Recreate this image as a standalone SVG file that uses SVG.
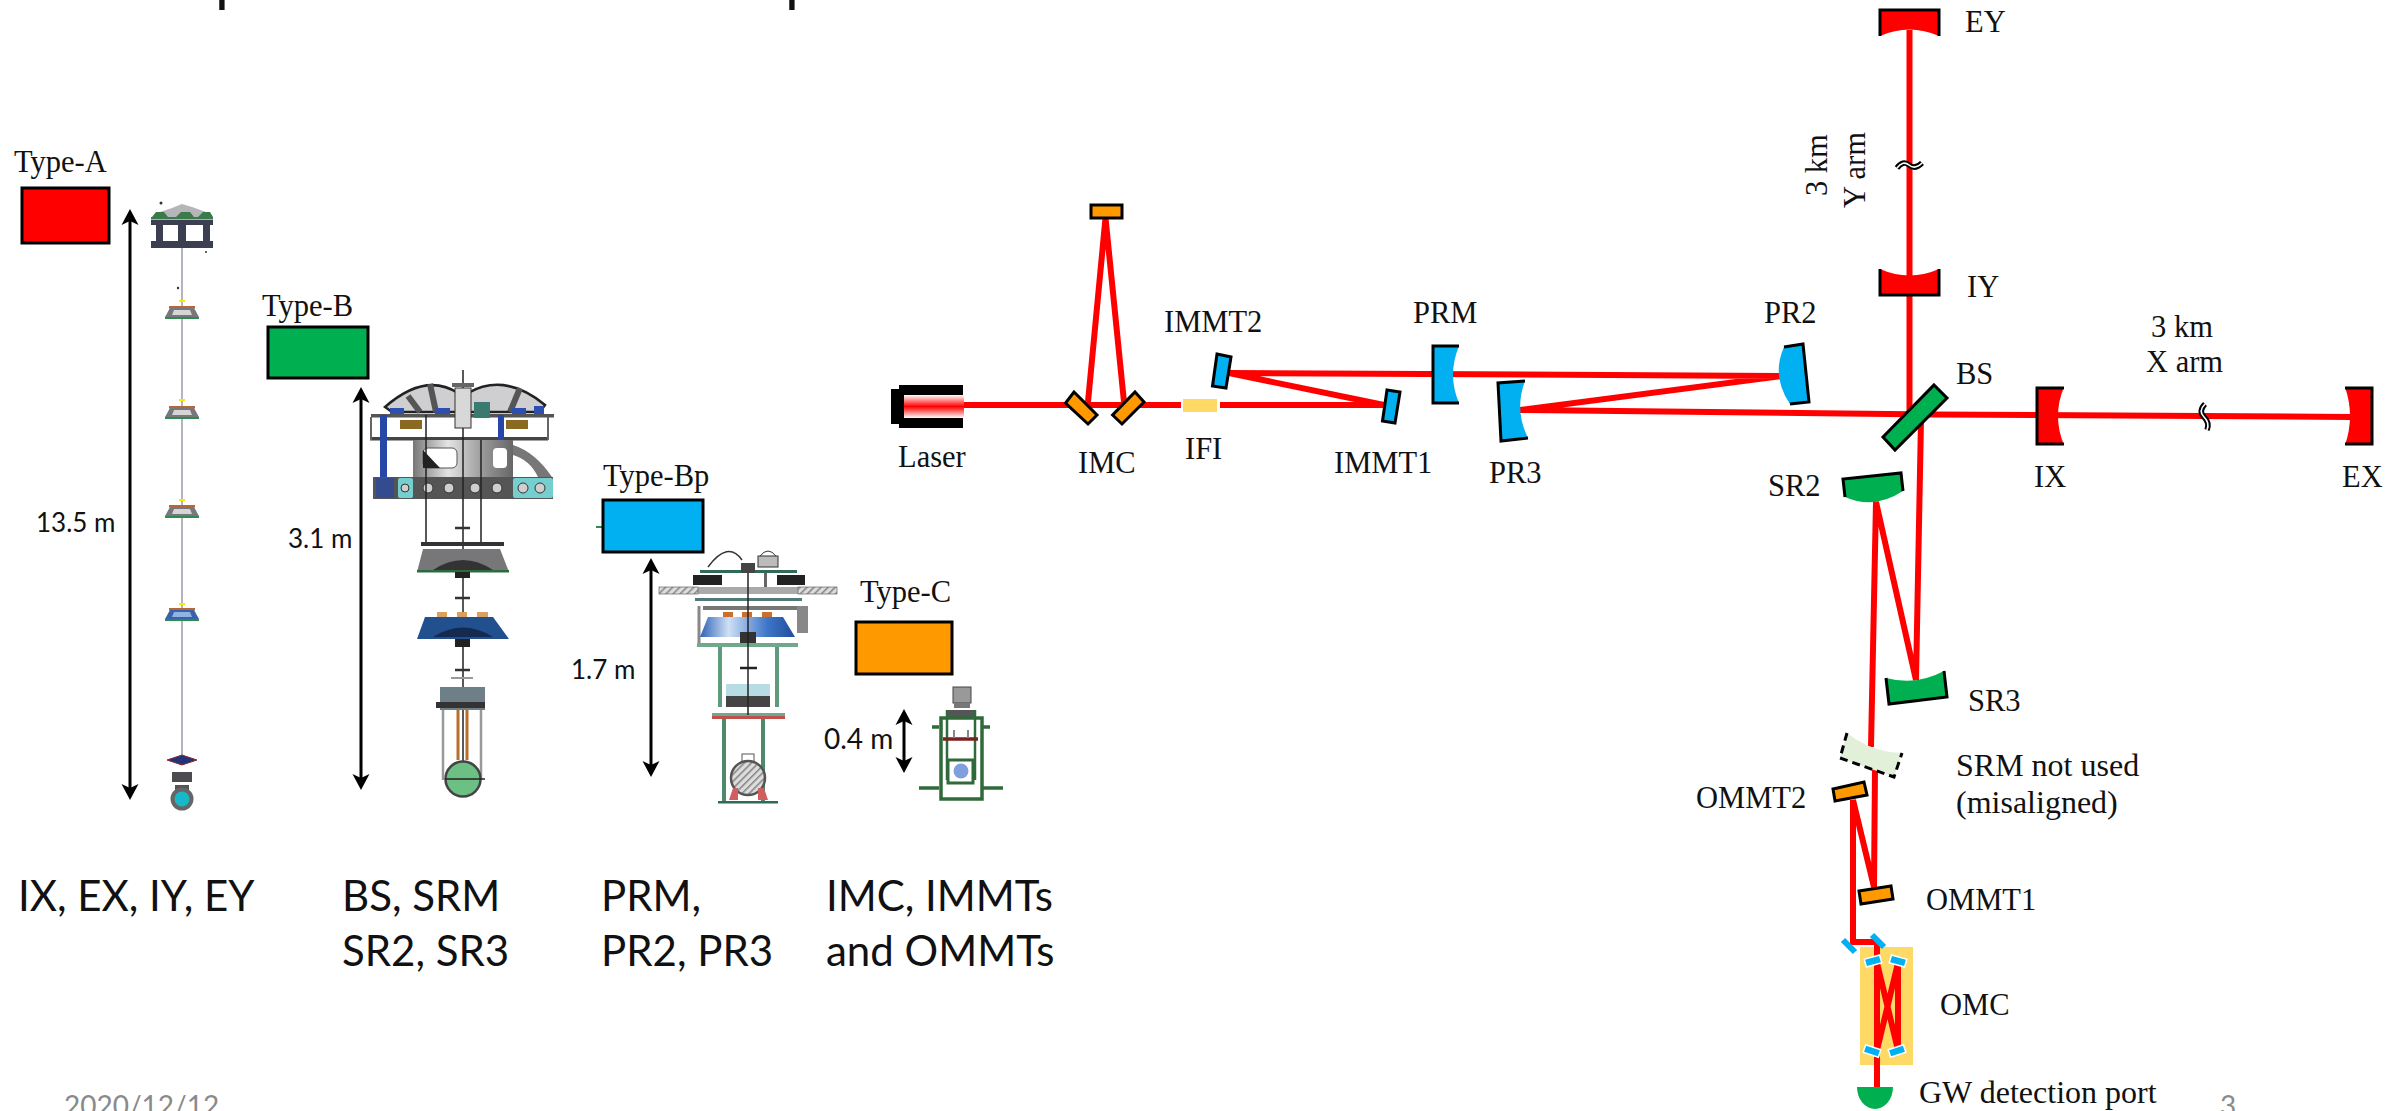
<svg xmlns="http://www.w3.org/2000/svg" width="2397" height="1111" viewBox="0 0 2397 1111">
<style>
.t{font-family:"Liberation Serif","Times New Roman",serif;font-size:30.5px;fill:#111}
.l{font-size:32px}
.c{font-family:Lato,"Open Sans",sans-serif;fill:#111}
.s{font-size:26px}
.b{font-size:42px}
.f{font-size:28px;fill:#8a8a8a}
.beam{fill:none;stroke:#f00;stroke-width:6}
.dim{fill:none;stroke:#000;stroke-width:3;marker-start:url(#ah);marker-end:url(#ah)}
.e{fill:none;stroke:#000;stroke-width:3}
.k{stroke:#000;stroke-width:3}
.red{fill:#f00}.grn{fill:#00b050}.blu{fill:#00b0f0}.org{fill:#ff9900}
.brk{fill:none;stroke:#000;stroke-width:5.5}
.brw{fill:none;stroke:#fff;stroke-width:1.6}
.sm{fill:#00b0f0;stroke:#fff;stroke-width:1.5}
.wire{stroke:#b4b4bc;stroke-width:2;fill:none}
.dk{stroke:#222;stroke-width:1.5;fill:none}
</style>
<defs>
<marker id="ah" markerUnits="userSpaceOnUse" orient="auto-start-reverse" viewBox="-8 -9 17 18" markerWidth="17" markerHeight="18" refX="0" refY="0"><path d="M8,0 L-8,-8.5 L-4,0 L-8,8.5Z" fill="#000"/></marker>
<linearGradient id="las" x1="0" y1="0" x2="0" y2="1"><stop offset="0" stop-color="#fff"/><stop offset=".5" stop-color="#f00"/><stop offset="1" stop-color="#fff"/></linearGradient>
<linearGradient id="cyl" x1="0" y1="0" x2="1" y2="0"><stop offset="0" stop-color="#777"/><stop offset=".35" stop-color="#e4e4e4"/><stop offset=".7" stop-color="#999"/><stop offset="1" stop-color="#666"/></linearGradient>
<linearGradient id="bluf" x1="0" y1="0" x2="1" y2="0"><stop offset="0" stop-color="#2f62b8"/><stop offset=".3" stop-color="#cfe0f5"/><stop offset=".7" stop-color="#3f77c9"/><stop offset="1" stop-color="#1f4c9a"/></linearGradient>
<pattern id="hat" width="5" height="5" patternUnits="userSpaceOnUse" patternTransform="rotate(45)"><rect width="5" height="5" fill="#ddd"/><rect width="1.6" height="5" fill="#888"/></pattern>
<g id="fa"><rect x="-13" y="-3" width="26" height="2.500" fill="#b5673a"/><path d="M-12,-1 H12 L17,8 H-17Z" fill="#77777c"/><path d="M-8,1 H8 L10,6 H-10Z" fill="#d5d5d8"/><rect x="-17" y="8" width="34" height="2" fill="#2e8a50"/></g>
<g id="fb"><rect x="-13" y="-3" width="26" height="2.500" fill="#b5673a"/><path d="M-12,-1 H12 L17,8 H-17Z" fill="#3a62a8"/><path d="M-8,1 H8 L10,6 H-10Z" fill="#8fb4e4"/><rect x="-17" y="8" width="34" height="2" fill="#2e8a50"/></g>
</defs>
<rect width="2397" height="1111" fill="#fff"/>

<g id="title-fragment"><text class="c" x="215" y="0" font-size="60">p</text><text class="c" x="785" y="0" font-size="60">p</text></g>

<g id="type-a">
<text class="t" x="14" y="172">Type-A</text>
<rect class="k red" x="22" y="188" width="87" height="55"/>
<path class="dim" d="M130,217 V792"/>
<text class="c s" x="36" y="532">13.5 m</text>
<g id="susp-a">
<path class="wire" d="M182,248 V760"/>
<path d="M160,212 L172,208 L182,204 L192,207 L206,212 V218 H158Z" fill="#b5b5ba"/>
<path d="M152,217 L156,212 H164 L168,217 M176,217 L181,212 H190 L194,217 M198,217 L203,212 H210 L213,217" fill="#3b7a4a"/>
<rect x="151" y="217" width="62" height="2.500" fill="#3b7a4a"/>
<rect x="151" y="220" width="62" height="5" fill="#3c3f52"/>
<rect x="156" y="224" width="7" height="18" fill="#3c3f52"/><rect x="178" y="224" width="8" height="18" fill="#3c3f52"/><rect x="203" y="224" width="7" height="18" fill="#3c3f52"/>
<rect x="151" y="241" width="62" height="7" fill="#3c3f52"/>
<circle cx="161" cy="203" r="1.500" fill="#333"/><circle cx="206" cy="252" r="1" fill="#333"/><circle cx="178" cy="288" r="1.200" fill="#333"/>
<rect x="179" y="300" width="6" height="2" fill="#ffe600"/><rect x="179" y="399" width="6" height="2" fill="#ffe600"/><rect x="179" y="499" width="6" height="2" fill="#ffe600"/><rect x="179" y="603" width="6" height="2" fill="#ffe600"/>
<use href="#fa" x="182" y="309"/><use href="#fa" x="182" y="409"/><use href="#fa" x="182" y="508"/><use href="#fb" x="182" y="611"/>
<path d="M167,760 L182,755 L197,760 L182,765Z" fill="#23337a" stroke="#8a2a2a" stroke-width="1"/>
<rect x="172" y="772" width="20" height="10" fill="#4c4c50"/>
<rect x="175" y="785" width="14" height="5" fill="#555"/>
<circle cx="182" cy="799" r="9.500" fill="#18b8c8" stroke="#666" stroke-width="4"/>
</g>
</g>

<g id="type-b">
<text class="t" x="262" y="316">Type-B</text>
<rect class="k grn" x="268" y="327" width="100" height="51"/>
<path class="dim" d="M361,395 V782"/>
<text class="c s" x="288" y="548">3.1 m</text>
<g id="susp-b">
<path d="M385,407 Q425,372 458,393 L458,412 H392Z" fill="#cfcfd2" stroke="#222" stroke-width="2.500"/>
<path d="M468,393 Q505,372 545,405 L540,412 H468Z" fill="#cfcfd2" stroke="#222" stroke-width="2.500"/>
<path d="M408,396 L420,412 M430,384 L436,412 M520,388 L510,412" stroke="#555" stroke-width="6" fill="none"/>
<rect x="371" y="414" width="183" height="3.500" fill="#555"/>
<rect x="370" y="437" width="178" height="3.500" fill="#444"/>
<path d="M371,417 V440 M548,417 V440" stroke="#666" stroke-width="2"/>
<rect x="400" y="420" width="22" height="9" fill="#8a6a20"/><rect x="506" y="420" width="22" height="9" fill="#8a6a20"/>
<rect x="390" y="408" width="14" height="6" fill="#2c4fb0"/><rect x="435" y="408" width="15" height="6" fill="#2c4fb0"/><rect x="512" y="408" width="14" height="6" fill="#2c4fb0"/><rect x="534" y="406" width="10" height="8" fill="#2c4fb0"/>
<rect x="380" y="415" width="7" height="80" fill="#2647a8"/><rect x="498" y="415" width="6" height="25" fill="#2647a8"/>
<rect x="413" y="440" width="100" height="37" fill="url(#cyl)"/>
<rect x="423" y="448" width="34" height="20" rx="5" fill="#fff" stroke="#555"/>
<path d="M423,450 L440,468 H423Z" fill="#222"/>
<rect x="493" y="448" width="14" height="20" rx="4" fill="#fff"/>
<path d="M513,445 Q535,452 552,477 H538 Q530,460 513,455Z" fill="#777"/>
<rect x="373" y="477" width="180" height="22" fill="#555"/>
<rect x="398" y="478" width="15" height="20" rx="2" fill="#76cfcf"/><rect x="513" y="478" width="40" height="20" rx="2" fill="#76cfcf"/>
<g fill="#cfcfcf" stroke="#333"><circle cx="405" cy="488" r="4"/><circle cx="428" cy="488" r="5"/><circle cx="449" cy="488" r="5"/><circle cx="475" cy="488" r="5"/><circle cx="497" cy="488" r="5"/><circle cx="523" cy="488" r="5"/><circle cx="540" cy="488" r="5"/></g>
<rect x="376" y="478" width="18" height="20" fill="#2647a8" opacity=".7"/>
<path class="dk" d="M463,370 V780 M426,415 V542 M481,440 V542"/>
<rect x="455" y="388" width="16" height="40" fill="#d8d8d8" stroke="#333"/>
<rect x="452" y="383" width="22" height="4" fill="#666"/>
<rect x="474" y="402" width="16" height="16" fill="#3b7a70"/>
<path d="M455,528 H470 M455,598 H470 M455,670 H470" stroke="#333" stroke-width="2.500"/>
<rect x="421" y="542" width="83" height="4" fill="#333"/>
<path d="M423,549 H500 L509,572 H417Z" fill="#77777a"/>
<path d="M433,570 Q463,550 493,570Z" fill="#333"/>
<rect x="417" y="570" width="92" height="2.500" fill="#2e6a40"/>
<rect x="455" y="572" width="15" height="6" fill="#222"/>
<rect x="437" y="612" width="10" height="5" fill="#d9a060"/><rect x="457" y="612" width="10" height="5" fill="#d9a060"/><rect x="477" y="612" width="11" height="5" fill="#d9a060"/>
<path d="M425,617 H493 L509,639 H417Z" fill="#22508f"/>
<path d="M433,637 Q463,618 493,637Z" fill="#142a50"/>
<rect x="455" y="639" width="15" height="8" fill="#222"/>
<rect x="451" y="677" width="22" height="2" fill="#999"/>
<rect x="440" y="687" width="45" height="23" fill="#6f7f88"/>
<rect x="436" y="702" width="49" height="6" fill="#333"/>
<path d="M443,710 V780 M481,710 V780" stroke="#999" stroke-width="2.500" fill="none"/>
<path d="M458,710 V760 M467,710 V760" stroke="#b5702c" stroke-width="3" fill="none"/>
<circle cx="463" cy="779" r="17.500" fill="#6cc083" stroke="#444" stroke-width="2.500"/>
<path class="dk" d="M445,779 H485" stroke-width="1"/>
</g>
</g>

<g id="type-bp">
<text class="t" x="603" y="486">Type-Bp</text>
<path d="M596,527 H603" stroke="#2e8a50" stroke-width="2"/>
<rect class="k blu" x="603" y="500" width="100" height="52"/>
<path class="dim" d="M651,566 V769"/>
<text class="c s" x="571" y="679">1.7 m</text>
<g id="susp-bp">
<path d="M708,567 Q728,540 742,560" fill="none" stroke="#333" stroke-width="1.500"/>
<rect x="758" y="556" width="20" height="11" fill="#bbb" stroke="#333"/>
<path d="M760,556 Q768,546 776,556" fill="none" stroke="#333"/>
<rect x="700" y="570" width="97" height="3" fill="#2f6b58"/>
<rect x="693" y="575" width="29" height="10" fill="#222"/><rect x="777" y="575" width="28" height="10" fill="#222"/>
<rect x="741" y="563" width="14" height="10" fill="#444"/>
<rect x="659" y="587" width="178" height="7" fill="#aaa"/>
<rect x="659" y="587" width="39" height="7" fill="url(#hat)" stroke="#666" stroke-width=".7"/><rect x="798" y="587" width="39" height="7" fill="url(#hat)" stroke="#666" stroke-width=".7"/>
<rect x="764" y="573" width="3" height="14" fill="#666"/>
<rect x="695" y="598" width="107" height="3" fill="#4f7a78"/>
<rect x="703" y="606" width="94" height="4" fill="#777"/>
<path d="M699,606 V643" stroke="#888" stroke-width="3"/>
<rect x="797" y="606" width="11" height="27" fill="#888"/>
<rect x="723" y="612" width="10" height="5" fill="#c8702c"/><rect x="742" y="612" width="10" height="5" fill="#c8702c"/><rect x="762" y="612" width="10" height="5" fill="#c8702c"/>
<path d="M708,617 H783 L795,637 H700Z" fill="url(#bluf)"/>
<rect x="740" y="632" width="16" height="11" fill="#333"/>
<rect x="697" y="643" width="101" height="4" fill="#6fa88a"/>
<path d="M720,647 V707 M777,647 V707" stroke="#5f9a7c" stroke-width="4"/>
<path d="M740,668 H757" stroke="#222" stroke-width="2.500"/>
<rect x="726" y="684" width="44" height="12" fill="#b8dce4"/>
<rect x="726" y="696" width="44" height="11" fill="#444"/>
<rect x="712" y="713" width="73" height="3" fill="#6fa88a"/>
<rect x="712" y="716" width="73" height="3" fill="#c0504d"/>
<path d="M724,719 V802 M763,719 V802" stroke="#4c8a6a" stroke-width="4"/>
<path class="dk" d="M748,573 V715"/>
<rect x="742" y="754" width="12" height="8" fill="#fff" stroke="#555"/>
<circle cx="748" cy="778" r="17" fill="url(#hat)" stroke="#555" stroke-width="2.500"/>
<path d="M729,800 L733,788 H738 V800Z M768,800 L764,788 H758 V800Z" fill="#d06060"/>
<rect x="718" y="801" width="60" height="2.500" fill="#2f6b58"/>
</g>
</g>

<g id="type-c">
<text class="t" x="860" y="602">Type-C</text>
<rect class="k org" x="856" y="622" width="96" height="52"/>
<path class="dim" d="M904,717 V765"/>
<text class="c" x="824" y="749" font-size="28">0.4 m</text>
<g id="susp-c">
<rect x="953" y="687" width="18" height="16" fill="#999" stroke="#444"/>
<rect x="954" y="703" width="16" height="5" fill="#777"/>
<rect x="947" y="710" width="28" height="8" fill="#555"/>
<path d="M947,710 V780 M975,710 V780" stroke="#2f6b3a" stroke-width="2.500" fill="none"/>
<rect x="941" y="718" width="41" height="81" fill="none" stroke="#2f6b3a" stroke-width="3.500"/>
<path d="M932,727 H939 M983,727 H990 M919,788 H939 M983,788 H1003" stroke="#2f6b3a" stroke-width="3.500"/>
<path d="M943,739 H978" stroke="#7a2020" stroke-width="3.500"/>
<path d="M954,730 V738 M968,730 V738" stroke="#888" stroke-width="2"/>
<rect x="948" y="760" width="25" height="23" fill="#fff" stroke="#2f6b3a" stroke-width="3"/>
<circle cx="961" cy="771" r="7.500" fill="#7f9fdd"/>
</g>
</g>

<g id="bottom-labels">
<text class="c b" x="18" y="911">IX, EX, IY, EY</text>
<text class="c b" x="342" y="911">BS, SRM</text>
<text class="c b" x="342" y="966">SR2, SR3</text>
<text class="c b" x="601" y="911">PRM,</text>
<text class="c b" x="601" y="966">PR2, PR3</text>
<text class="c b" x="826" y="911">IMC, IMMTs</text>
<text class="c b" x="826" y="966">and OMMTs</text>
</g>
<g id="footer"><text class="c f" x="64" y="1116">2020/12/12</text><text class="c f" x="2220" y="1116">3</text></g>

<g id="connectors">
<path class="beam" d="M963,405 H1181 M1220,405 H1384"/>
<path class="beam" d="M1088,402 L1105.500,218 L1124,402"/>
<path class="beam" d="M1384,405 L1229,373 L1782,376 L1520,410 L1932,414.500 L2352,417"/>
<path class="beam" d="M1909.500,30 V412"/>
<path class="beam" d="M1921,420 L1916,680 L1876,502 L1871,747"/>
<path class="beam" d="M1875,768 L1874,887 L1853,800 V942 H1877 V1087"/>
</g>

<g id="breaks">
<g id="break-y"><path class="brk" d="M1897,168 Q1903,160 1909,165 T1922,163"/><path class="brw" d="M1897,168 Q1903,160 1909,165 T1922,163"/></g>
<g id="break-x"><path class="brk" d="M2205,404 Q2198,411 2204,417 T2207,430"/><path class="brw" d="M2205,404 Q2198,411 2204,417 T2207,430"/></g>
</g>

<g id="Laser">
<rect x="891" y="389" width="10" height="35" fill="#000"/>
<rect x="899" y="385" width="64" height="10" fill="#000"/><rect x="899" y="418" width="64" height="10" fill="#000"/>
<rect x="899" y="395" width="5" height="23" fill="#000"/>
<rect x="904" y="395" width="60" height="23" fill="url(#las)"/>
<text class="t" x="898" y="467">Laser</text>
</g>
<g id="IMC">
<polygon class="k org" points="1074,392 1097,415 1088,424 1065.500,403"/>
<polygon class="k org" points="1135,392 1144,402 1122,424 1112.600,415"/>
<rect class="k org" x="1091" y="205" width="31" height="13"/>
<text class="t" x="1078" y="473">IMC</text>
</g>
<g id="IFI"><rect x="1183" y="399" width="34" height="13" fill="#ffd966"/><text class="t" x="1185" y="459">IFI</text></g>
<g id="IMMT1"><polygon class="k blu" points="1387,390 1400,392 1395,423 1382.500,421"/><text class="t" x="1334" y="473">IMMT1</text></g>
<g id="IMMT2"><polygon class="k blu" points="1217,354 1231,357 1226,388 1212.500,386"/><text class="t" x="1164" y="332">IMMT2</text></g>
<g id="PRM"><path class="blu" d="M1433,346 H1459 Q1447,375 1459,403 H1433Z"/><path class="e" d="M1459,346 H1433 V403 H1459"/><text class="t" x="1413" y="323">PRM</text></g>
<g id="PR3"><path class="blu" d="M1498,383 L1525,381 Q1514,410 1528,438 L1501,441Z"/><path class="e" d="M1525,381 L1498,383 L1501,441 L1528,438"/><text class="t" x="1489" y="483">PR3</text></g>
<g id="PR2"><path class="blu" d="M1784,347 L1803,344 L1809,402 L1790,404 Q1771,376 1784,347Z"/><path class="e" d="M1784,347 L1803,344 L1809,402 L1790,404"/><text class="t" x="1764" y="323">PR2</text></g>
<g id="BS"><polygon class="k grn" points="1934,385 1947,398 1895,450 1883,437"/><text class="t" x="1956" y="384">BS</text></g>
<g id="EY"><path class="red" d="M1880,9 H1939 V36 Q1909.500,23 1880,36Z"/><path class="e" d="M1880,36 V10 H1939 V36"/><text class="t" x="1965" y="32">EY</text></g>
<g id="IY"><path class="red" d="M1880,269 Q1909.500,282 1939,269 V296 H1880Z"/><path class="e" d="M1880,269 V295 H1939 V269"/><text class="t" x="1967" y="297">IY</text></g>
<g id="IX"><path class="red" d="M2037,387 H2064 Q2052,416 2064,445 H2037Z"/><path class="e" d="M2064,388 H2037 V444 H2064"/><text class="t" x="2034" y="487">IX</text></g>
<g id="EX"><path class="red" d="M2345,387 H2372 V445 H2345 Q2355,416 2345,387Z"/><path class="e" d="M2345,388 H2372 V444 H2345"/><text class="t" x="2342" y="487">EX</text></g>
<g id="SR2"><path class="grn" d="M1843,479 L1901,473 L1903,491 Q1874,510 1845,497Z"/><path class="e" d="M1845,497 L1843,479 L1901,473 L1903,491"/><text class="t" x="1768" y="496">SR2</text></g>
<g id="SR3"><path class="grn" d="M1886,678 Q1916,686 1944,671 L1947,697 L1889,704Z"/><path class="e" d="M1886,678 L1889,704 L1947,697 L1944,671"/><text class="t" x="1968" y="711">SR3</text></g>
<g id="SRM"><path fill="#e2f0d9" d="M1847,733 Q1871,752 1902,753 L1894,777 L1840,758Z"/><path class="e" stroke-dasharray="8 5" d="M1847,733 L1840,758 L1894,777 L1902,753"/><text class="t l" x="1956" y="776">SRM not used</text><text class="t l" x="1956" y="813">(misaligned)</text></g>
<g id="OMMT2"><polygon class="k org" points="1833,789 1864,782 1867,795 1835,801"/><text class="t" x="1696" y="808">OMMT2</text></g>
<g id="OMMT1"><polygon class="k org" points="1859,891 1891,886 1893,899 1861,904"/><text class="t" x="1926" y="910">OMMT1</text></g>
<g id="OMC">
<rect x="1860" y="947" width="53" height="118" fill="#ffd966"/>
<path class="beam" d="M1877,947 V1065 M1877,1050 L1898,963 V1050 L1877,963"/>
<g class="sm"><rect x="-8" y="-4" width="16" height="8" transform="translate(1873 961) rotate(-16)"/><rect x="-8" y="-4" width="16" height="8" transform="translate(1898 961) rotate(16)"/><rect x="-8" y="-4" width="16" height="8" transform="translate(1872 1051) rotate(18)"/><rect x="-8" y="-4" width="16" height="8" transform="translate(1897 1051) rotate(-18)"/></g>
<path d="M1843,940 L1855,952 M1872,935 L1884,947" stroke="#00b0f0" stroke-width="6"/>
<text class="t" x="1940" y="1015">OMC</text>
</g>
<g id="GW"><path class="grn" d="M1857,1087 H1893 A18,22 0 0 1 1857,1087Z"/><text class="t l" x="1919" y="1103">GW detection port</text></g>
<g id="arm-labels">
<text class="t" x="2151" y="337">3 km</text><text class="t" x="2146" y="372">X arm</text>
<text class="t" transform="translate(1827 196) rotate(-90)">3 km</text><text class="t" transform="translate(1865 208) rotate(-90)">Y arm</text>
</g>
</svg>
